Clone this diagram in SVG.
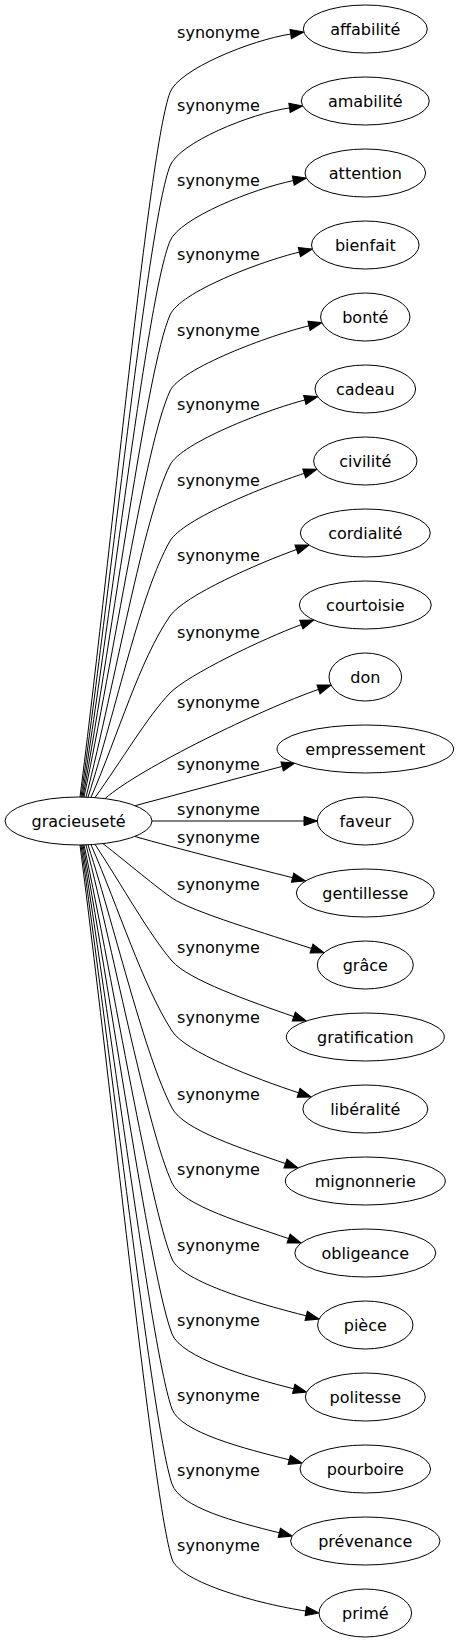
<svg xmlns="http://www.w3.org/2000/svg" width="459" height="1643" viewBox="0 0 459 1643">
<style>
.n ellipse{fill:#fff;stroke:#000;stroke-width:1}
text{font-family:"DejaVu Sans","Liberation Sans",sans-serif;font-size:16px;fill:#000}
.n text{text-anchor:middle}
.lbl{text-anchor:middle}
.e path{fill:none;stroke:#000;stroke-width:1;marker-end:url(#arr)}
</style>
<defs>
<marker id="arr" markerUnits="userSpaceOnUse" viewBox="0 0 14 10" markerWidth="14" markerHeight="10" refX="0.5" refY="5" orient="auto" overflow="visible">
<path d="M0.5,0.33 L13.8,5 L0.5,9.67 Z" fill="#000" stroke="#000" stroke-width="1"/>
</marker>
</defs>
<rect width="459" height="1643" fill="#fff"/>
<g id="edges" class="e">
<path d="M80,797 C111.5,550.4 148.8,148.6 170,92.5 C178.9,69.1 251.2,40.2 290.7,34"/>
<path d="M81,797 C112.2,576.1 148.2,221.9 170,166 C179.1,142.7 249.9,113.7 289.5,107.9"/>
<path d="M82,797 C112.8,602.4 147.3,296.6 170,241 C179.5,217.9 254.1,188.6 293.3,180.6"/>
<path d="M83,797 C113.5,628.3 146.3,370.1 170,315 C179.9,292.1 260.5,261.4 299.4,252.1"/>
<path d="M84,797 C114.1,654.9 144.9,445.4 170,391 C180.5,368.3 270.1,335.1 309,325.8"/>
<path d="M86,797.1 C115.4,680.9 143.1,518.6 170,465 C181.2,442.7 266.1,410 304.8,400"/>
<path d="M88,797.2 C116.7,707.5 140.3,593.1 170,541 C182.4,519.3 266.2,485.7 304.2,473.4"/>
<path d="M91,797.35 C118.65,733.9 139.2,660.8 170,616 C184.2,595.4 258.9,563.1 296.5,549.5"/>
<path d="M95,797.6 C121.25,761 148.2,715.6 170,693 C187.4,675 263.8,638.4 301.3,624.6"/>
<path d="M105,798.6 C140,768 261.8,709.1 318.5,689.4"/>
<path d="M135,805.7 L282.15,766.4"/>
<path d="M152,821 L304,821"/>
<path d="M135,836.5 C175,848 250,867 292.6,877.7"/>
<path d="M103,843.6 C127.15,862.6 158.5,888.8 172,898 C192.7,912.1 268.8,934.4 311.5,948.5"/>
<path d="M95,844.4 C121.95,885.2 149.2,934.5 172,961 C188.3,980 251.3,1001.8 293.8,1016.6"/>
<path d="M91,844.65 C119.35,909.9 142,983.8 172,1031 C185.4,1052.1 255.9,1078.7 298.6,1092.8"/>
<path d="M88,844.8 C117.4,936.9 144.3,1054.7 172,1108 C183.5,1130.2 243,1148.8 285.5,1163.6"/>
<path d="M86,844.9 C116.1,963.2 147.2,1128.3 172,1183 C182.3,1205.8 246.1,1223.8 288.6,1238.6"/>
<path d="M84,844.93 C114.8,989.8 149.1,1203.6 172,1259 C181.5,1282.1 262.5,1304.9 306.2,1315.8"/>
<path d="M83,844.95 C114.15,1016.1 150.6,1278 172,1334 C180.9,1357.4 250,1377.9 293.7,1388.8"/>
<path d="M82,844.97 C113.5,1042.4 151.7,1352.5 172,1409 C180.5,1432.5 245.5,1448.9 289.2,1459.8"/>
<path d="M81,845 C112.85,1068.65 152.6,1427.2 172,1484 C180.1,1507.7 235.6,1521.9 279.3,1532.8"/>
<path d="M80,845 C112.2,1094.9 153.3,1502 172,1559 C179.8,1582.75 261.3,1604.4 305.8,1611"/>
</g>
<g id="edge-labels">
<text class="lbl" x="218.5" y="37.5">synonyme</text>
<text class="lbl" x="218.5" y="111">synonyme</text>
<text class="lbl" x="218.5" y="186">synonyme</text>
<text class="lbl" x="218.5" y="260">synonyme</text>
<text class="lbl" x="218.5" y="336">synonyme</text>
<text class="lbl" x="218.5" y="410">synonyme</text>
<text class="lbl" x="218.5" y="486">synonyme</text>
<text class="lbl" x="218.5" y="561">synonyme</text>
<text class="lbl" x="218.5" y="638">synonyme</text>
<text class="lbl" x="218.5" y="708">synonyme</text>
<text class="lbl" x="218.5" y="770">synonyme</text>
<text class="lbl" x="218.5" y="815">synonyme</text>
<text class="lbl" x="218.5" y="843">synonyme</text>
<text class="lbl" x="218.5" y="890">synonyme</text>
<text class="lbl" x="218.5" y="953">synonyme</text>
<text class="lbl" x="218.5" y="1023">synonyme</text>
<text class="lbl" x="218.5" y="1100">synonyme</text>
<text class="lbl" x="218.5" y="1175">synonyme</text>
<text class="lbl" x="218.5" y="1251">synonyme</text>
<text class="lbl" x="218.5" y="1326">synonyme</text>
<text class="lbl" x="218.5" y="1401">synonyme</text>
<text class="lbl" x="218.5" y="1476">synonyme</text>
<text class="lbl" x="218.5" y="1551">synonyme</text>
</g>
<g id="gracieusete" class="n"><ellipse cx="78.5" cy="821" rx="73.5" ry="24"/><text x="78.5" y="826.5">gracieuseté</text></g>
<g id="affabilite" class="n"><ellipse cx="365.3" cy="29" rx="62" ry="24"/><text x="365.3" y="34.5">affabilité</text></g>
<g id="amabilite" class="n"><ellipse cx="365.3" cy="101" rx="64" ry="24"/><text x="365.3" y="106.5">amabilité</text></g>
<g id="attention" class="n"><ellipse cx="365.3" cy="173" rx="60.3" ry="24"/><text x="365.3" y="178.5">attention</text></g>
<g id="bienfait" class="n"><ellipse cx="365.3" cy="245" rx="53.8" ry="24"/><text x="365.3" y="250.5">bienfait</text></g>
<g id="bonte" class="n"><ellipse cx="365.3" cy="317" rx="44.7" ry="24"/><text x="365.3" y="322.5">bonté</text></g>
<g id="cadeau" class="n"><ellipse cx="365.3" cy="389" rx="50.3" ry="24"/><text x="365.3" y="394.5">cadeau</text></g>
<g id="civilite" class="n"><ellipse cx="365.3" cy="461" rx="51.7" ry="24"/><text x="365.3" y="466.5">civilité</text></g>
<g id="cordialite" class="n"><ellipse cx="365.3" cy="533" rx="65" ry="24"/><text x="365.3" y="538.5">cordialité</text></g>
<g id="courtoisie" class="n"><ellipse cx="365.3" cy="605" rx="66" ry="24"/><text x="365.3" y="610.5">courtoisie</text></g>
<g id="don" class="n"><ellipse cx="365.3" cy="677" rx="36.3" ry="24"/><text x="365.3" y="682.5">don</text></g>
<g id="empressement" class="n"><ellipse cx="365.3" cy="749" rx="88.3" ry="24"/><text x="365.3" y="754.5">empressement</text></g>
<g id="faveur" class="n"><ellipse cx="365.3" cy="821" rx="48" ry="24"/><text x="365.3" y="826.5">faveur</text></g>
<g id="gentillesse" class="n"><ellipse cx="365.3" cy="893" rx="69" ry="24"/><text x="365.3" y="898.5">gentillesse</text></g>
<g id="grace" class="n"><ellipse cx="365.3" cy="965" rx="48" ry="24"/><text x="365.3" y="970.5">grâce</text></g>
<g id="gratification" class="n"><ellipse cx="365.3" cy="1037" rx="79" ry="24"/><text x="365.3" y="1042.5">gratification</text></g>
<g id="liberalite" class="n"><ellipse cx="365.3" cy="1109" rx="62.5" ry="24"/><text x="365.3" y="1114.5">libéralité</text></g>
<g id="mignonnerie" class="n"><ellipse cx="365.3" cy="1181" rx="80" ry="24"/><text x="365.3" y="1186.5">mignonnerie</text></g>
<g id="obligeance" class="n"><ellipse cx="365.3" cy="1253" rx="70.5" ry="24"/><text x="365.3" y="1258.5">obligeance</text></g>
<g id="piece" class="n"><ellipse cx="365.3" cy="1325" rx="47.7" ry="24"/><text x="365.3" y="1330.5">pièce</text></g>
<g id="politesse" class="n"><ellipse cx="365.3" cy="1397" rx="60" ry="24"/><text x="365.3" y="1402.5">politesse</text></g>
<g id="pourboire" class="n"><ellipse cx="365.3" cy="1469" rx="65.3" ry="24"/><text x="365.3" y="1474.5">pourboire</text></g>
<g id="prevenance" class="n"><ellipse cx="365.3" cy="1541" rx="74.7" ry="24"/><text x="365.3" y="1546.5">prévenance</text></g>
<g id="prime" class="n"><ellipse cx="365.3" cy="1613" rx="46.3" ry="24"/><text x="365.3" y="1618.5">primé</text></g>
</svg>
